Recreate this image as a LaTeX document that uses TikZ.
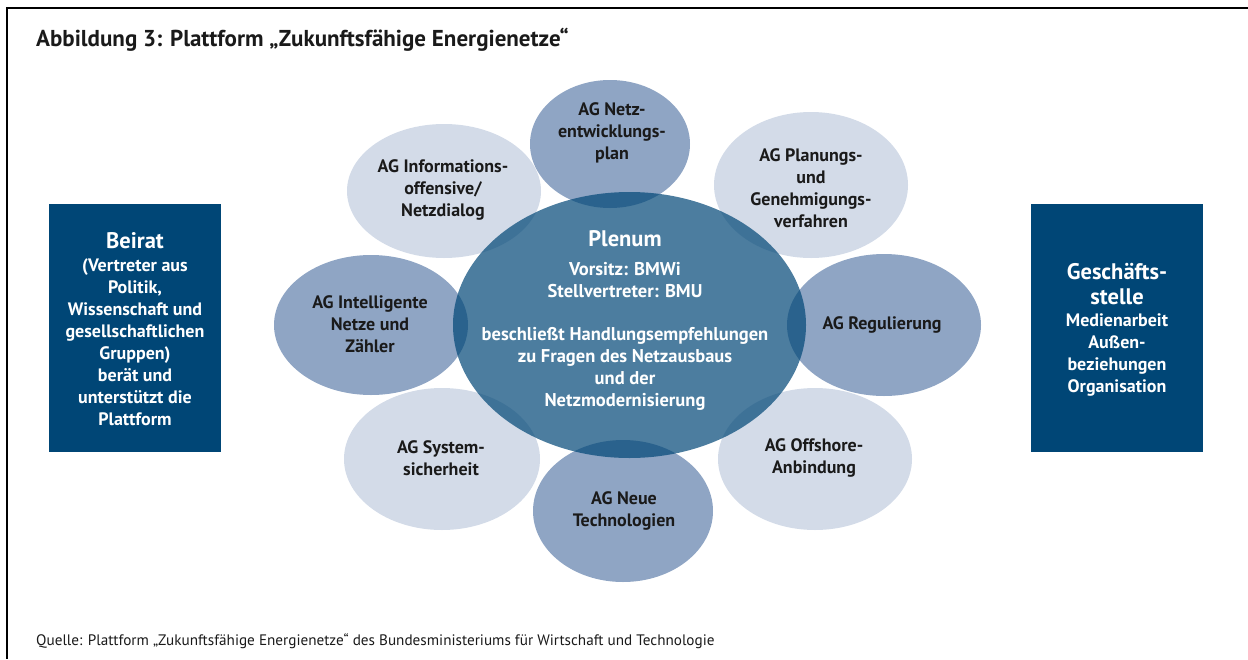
\documentclass[tikz,border=0pt]{standalone}
\usepackage{fontspec}
\setmainfont{PT Sans}
\usetikzlibrary{shapes.geometric}
\definecolor{boxblue}{HTML}{004676}
\definecolor{agdark}{HTML}{8FA5C4}
\definecolor{aglight}{HTML}{D3DBE8}
\definecolor{txt}{HTML}{1A1A1A}
\tikzset{
  sat/.style={ellipse, inner sep=0pt, outer sep=0pt, draw=none},
  satlight/.style={sat, fill=aglight},
  satdark/.style={sat, fill=agdark},
  agtext/.style={align=center, text=txt, font=\bfseries\fontsize{18}{22}\selectfont, inner sep=0pt},
  wtext/.style={align=center, text=white, font=\bfseries\fontsize{18.5}{22}\selectfont, inner sep=0pt},
  wbig/.style={align=center, text=white, font=\bfseries\fontsize{22.5}{25}\selectfont, inner sep=0pt},
  sidebox/.style={fill=boxblue, minimum width=172pt, minimum height=248pt, inner sep=0pt, outer sep=0pt},
  frameline/.style={line width=2pt, black}
}
\begin{document}
\begin{tikzpicture}[x=1pt,y=-1pt]
\useasboundingbox (0,0) rectangle (1248,659);
% frame
\draw[frameline] (7,8) -- (1248,8);
\draw[frameline] (7,7) -- (7,659);
% title
\node[anchor=base west, inner sep=0pt, font=\bfseries\fontsize{23}{27}\selectfont, text=txt] (title) at (36,46) {Abbildung 3: Plattform „Zukunftsfähige Energienetze“};
% side boxes
\node[sidebox] (beirat) at (135,328) {};
\node[sidebox] (gs) at (1117,328) {};
% satellites light
\node[satlight, minimum width=194pt, minimum height=134pt] (e2) at (444,191) {};
\node[satlight, minimum width=194pt, minimum height=146pt] (e3) at (811,185) {};
\node[satlight, minimum width=196pt, minimum height=142pt] (e6) at (442,459) {};
\node[satlight, minimum width=194pt, minimum height=142pt] (e7) at (815,459) {};
% satellites dark
\node[satdark, minimum width=160pt, minimum height=128pt] (e1) at (610,144) {};
\node[satdark, minimum width=194pt, minimum height=140pt] (e4) at (371,325) {};
\node[satdark, minimum width=194pt, minimum height=142pt] (e5) at (884,325) {};
\node[satdark, minimum width=180pt, minimum height=142pt] (e8) at (623,511) {};
% central
\node[sat, fill=boxblue, fill opacity=0.7, minimum width=353pt, minimum height=266pt] (plenum) at (629.5,325) {};
% satellite texts
\node[agtext] (t1) at (612,133) {AG Netz-\\entwicklungs-\\plan};
\node[agtext] (t2) at (443,190) {AG Informations-\\offensive/\\Netzdialog};
\node[agtext] (t3) at (811,188) {AG Planungs-\\und\\Genehmigungs-\\verfahren};
\node[agtext] (t4) at (370,324) {AG Intelligente\\Netze und\\Zähler};
\node[agtext] (t5) at (882,325) {AG Regulierung};
\node[agtext] (t6) at (441,458) {AG System-\\sicherheit};
\node[agtext] (t7) at (814,458) {AG Offshore-\\Anbindung};
\node[agtext] (t8) at (624,511) {AG Neue\\Technologien};
% plenum texts
\node[wbig] (p1) at (625,239) {Plenum};
\node[wtext] (p2) at (625,280) {Vorsitz: BMWi\\Stellvertreter: BMU};
\node[wtext] (p3) at (625,369) {beschließt Handlungsempfehlungen\\zu Fragen des Netzausbaus\\und der\\Netzmodernisierung};
% box texts
\node[wbig] (b1) at (135,241) {Beirat};
\node[wtext, font=\bfseries\fontsize{18}{22}\selectfont] (b2) at (135,342) {(Vertreter aus\\Politik,\\Wissenschaft und\\gesellschaftlichen\\Gruppen)\\berät und\\unterstützt die\\Plattform};
\node[wbig] (g1) at (1117,284.5) {Geschäfts-\\stelle};
\node[wtext, font=\bfseries\fontsize{18}{22}\selectfont] (g2) at (1117,355) {Medienarbeit\\Außen-\\beziehungen\\Organisation};
% source
\node[anchor=base west, inner sep=0pt, font=\fontsize{15.2}{18}\selectfont, text=txt] (src) at (36,645) {Quelle: Plattform „Zukunftsfähige Energienetze“ des Bundesministeriums für Wirtschaft und Technologie};
\end{tikzpicture}
\end{document}
